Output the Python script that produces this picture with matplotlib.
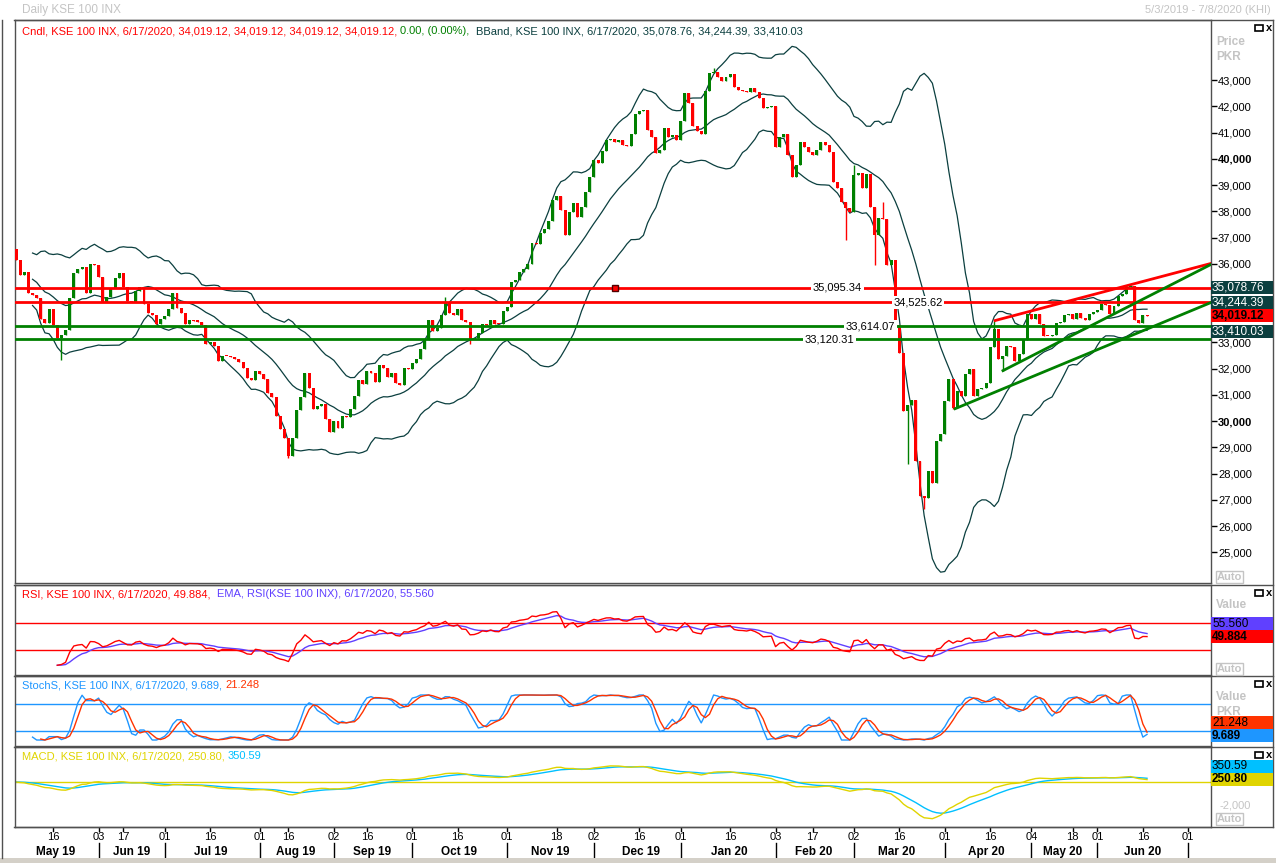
import numpy as np
import pandas as pd
import matplotlib
matplotlib.use("Agg")
import matplotlib.pyplot as plt
from matplotlib.patches import Rectangle
from matplotlib.lines import Line2D
from matplotlib import transforms

plt.rcParams['font.family'] = ['Liberation Sans', 'DejaVu Sans']

W, H = 1276, 863

# daily closes of KSE 100, 5/3/2019 .. 6/17/2020
close_may_aug = [36130, 35560, 35670, 34870, 34820, 34700, 33910, 33760, 34290, 33650,
                 33190, 33270, 33490, 34680, 35630, 35790, 35870, 34870, 36000, 35940,
                 35480, 34560, 34720, 35060, 35440, 35630, 35130, 34600, 34560, 34980,
                 35100, 34480, 34140, 34030, 33720, 33910, 34000, 34290, 34900, 34330,
                 34140, 33690, 33850, 33830, 33800, 33650, 32960, 33000, 32850, 32310,
                 32500, 32480, 32450, 32390, 32270, 32040, 31660, 31580, 31920, 31810,
                 31620, 31090, 30930, 30210, 29710, 29370, 28680, 29370, 30440]
close_aug_dec = [30940, 31850, 31280, 30480, 30590, 30670, 30100, 29600, 30020, 29750,
                 30210, 30170, 30480, 30970, 31580, 31430, 31930, 31850, 31510, 32160,
                 32040, 31700, 31850, 31470, 31390, 32040, 32000, 32230, 32390, 32770,
                 33080, 33840, 33420, 33570, 34030, 34530, 34140, 34030, 34290, 33840,
                 33800, 33150, 33190, 33380, 33720, 33650, 33870, 33720, 33700, 34210,
                 34370, 35290, 35370, 35670, 35790, 35980, 36780, 36740, 37190, 37310,
                 37620, 38420, 38570, 38040, 37080, 37960, 38300, 37770, 38150, 38720,
                 39300, 39950, 39830, 40280]
close_dec_mar = [40710, 40750, 40630, 40710, 40520, 40480, 40940, 41700, 41810, 41850,
                 41100, 40820, 40210, 40330, 41170, 40820, 40900, 40710, 41430, 42500,
                 42120, 41240, 41050, 40950, 42580, 43270, 43300, 43120, 42960, 43120,
                 43230, 42730, 42620, 42600, 42540, 42700, 42540, 42310, 41930, 41970,
                 42000, 40440, 40850, 40940, 40140, 39300, 39750, 40630, 40440, 40250,
                 40140, 40330, 40630, 40520, 40250, 39100, 38880, 38340, 38110, 37960,
                 39370, 39450, 38880, 39410, 38150, 37080, 37730, 37700, 35940, 36130,
                 33650]
close_mar_jun = [32610, 30400, 30600, 30800, 28490, 27160, 27080, 28100, 27650, 29260,
                 29520, 30780, 31620, 30520, 31160, 30970, 31810, 32000, 30970, 31240,
                 31280, 31470, 32810, 33500, 32390, 32500, 32880, 32810, 32310, 32580,
                 33080, 34100, 33910, 34100, 33720, 33260, 33230, 33300, 33760, 33800,
                 34030, 34100, 33910, 34140, 33950, 33850, 34100, 34150, 34250, 34450,
                 34420, 34100, 34400, 34790, 34850, 35100, 35170, 33840, 33760, 34030,
                 34019.12]
first_open = 36550
# the longer shadows that stand out (bar index -> price)
wick_high = {104: 34715, 169: 43470, 203: 39750, 210: 38340, 237: 33837}
wick_low = {11: 32350, 66: 28600, 110: 32960, 201: 36890, 208: 35940,
            216: 28380, 220: 26660, 227: 30477, 239: 31928}

# drawn horizontal levels and trend lines
levels = [35095.34, 34525.62, 33614.07, 33120.31]
level_colors = ['#FF0000', '#FF0000', '#008000', '#008000']
level_label_bar = [199, 218.5, 207, 197]
trend_red = ([237.2, 289.5], [33837, 36013])
trend_green_up = ([239.1, 289.5], [31928, 35975])
trend_green_low = ([227.5, 289.5], [30477, 34524])

# header values of the last bar
last_date = '6/17/2020'
last_ohlc = [34019.12, 34019.12, 34019.12, 34019.12]
bband_last = [35078.76, 34244.39, 33410.03]
rsi_last, rsi_ema_last = 49.884, 55.560
stoch_k_last, stoch_d_last = 9.689, 21.248
macd_last, macd_sig_last = 250.80, 350.59

# date axis (bar index of each labelled day)
day_ticks = [9, 20, 26, 36, 47, 59, 66, 77, 85, 96, 107, 119, 131, 140, 151,
             161, 173, 184, 193, 203, 214, 225, 236, 246, 256, 262, 273, 284]
day_labels = ['16', '03', '17', '01', '16', '01', '16', '02', '16', '01', '16', '01', '18', '02', '16',
              '01', '16', '03', '17', '02', '16', '01', '16', '04', '18', '01', '16', '01']
month_pos = [9.7, 27.9, 47.2, 67.8, 86.2, 107.3, 129.4, 151.4, 172.7, 193.3, 213.4, 235.0, 253.6, 273.0]
month_labels = ['May 19', 'Jun 19', 'Jul 19', 'Aug 19', 'Sep 19', 'Oct 19', 'Nov 19', 'Dec 19',
                'Jan 20', 'Feb 20', 'Mar 20', 'Apr 20', 'May 20', 'Jun 20']
month_starts = [20, 36, 59, 77, 96, 119, 140, 161, 184, 203, 225, 246, 262, 284]
price_ticks = [25000, 26000, 27000, 28000, 29000, 30000, 31000, 32000, 33000,
               36000, 37000, 38000, 39000, 40000, 41000, 42000, 43000]

GREEN = '#008000'
RED = '#FF0000'
TEAL = '#0B3F3F'
EMA_C = '#6040FF'
K_C = '#1E96FF'
D_C = '#FF3300'
MACD_C = '#E0D400'
SIG_C = '#00C0FF'
GRAY = '#C4C4C4'
FRAME = '#505050'


def px_rect(x0, y0, x1, y1):
    return [x0 / W, 1 - y1 / H, (x1 - x0) / W, (y1 - y0) / H]


fig = plt.figure(figsize=(W / 100, H / 100), dpi=100)
ax = fig.add_axes(px_rect(15, 20, 1211, 583))
ax_rsi = fig.add_axes(px_rect(15, 585, 1211, 675))
ax_st = fig.add_axes(px_rect(15, 676, 1211, 746))
ax_md = fig.add_axes(px_rect(15, 747, 1211, 827))

for a in (ax, ax_rsi, ax_st, ax_md):
    a.set_xlim(-0.25, 289.5)
    a.set_xticks([])
    for sp in a.spines.values():
        sp.set_color(FRAME)
        sp.set_linewidth(1)
ax.set_ylim(23834, 45291)
ax_rsi.set_ylim(-7, 126.3)
ax_st.set_ylim(-13.3, 142.2)
ax_md.set_ylim(-3913, 3043)
for a in (ax_rsi, ax_st, ax_md):
    a.set_yticks([])

# ---- candles
close = np.array(close_may_aug + close_aug_dec + close_dec_mar + close_mar_jun, dtype=float)
idx = np.arange(len(close))
opens = np.concatenate([[first_open], close[:-1]])
up = close >= opens
body_lo = np.minimum(opens, close)
body_hi = np.maximum(opens, close)
highs = body_hi.copy()
lows = body_lo.copy()
for k, v in wick_high.items():
    highs[k] = v
for k, v in wick_low.items():
    lows[k] = v
cols = np.where(up, GREEN, RED)
ax.vlines(idx, lows, highs, colors=cols, lw=1, zorder=3)
ax.bar(idx, np.maximum(body_hi - body_lo, 40), bottom=body_lo, width=0.72,
       color=cols, linewidth=0, zorder=3)

# ---- bollinger bands
s = pd.Series(close)
mid = s.rolling(20, min_periods=5).mean()
sd = s.rolling(20, min_periods=5).std(ddof=0)
for band in (mid + 2 * sd, mid, mid - 2 * sd):
    ax.plot(idx, band, color=TEAL, lw=0.9, zorder=2)

# ---- levels and trend lines
for lv, c, xb in zip(levels, level_colors, level_label_bar):
    ax.axhline(lv, color=c, lw=2, zorder=4)
    ax.text(xb, lv, f'{lv:,.2f}', ha='center', va='center', fontsize=8, color='black', zorder=5,
            bbox=dict(boxstyle='square,pad=0.15', fc='white', ec='none'))
ax.plot(145, levels[0], 's', ms=5, mfc=RED, mec='#500000', mew=1, zorder=6)
ax.plot(*trend_red, color=RED, lw=2, zorder=4)
ax.plot(*trend_green_up, color=GREEN, lw=2, zorder=4)
ax.plot(*trend_green_low, color=GREEN, lw=2, zorder=4)

# right price scale
ax.yaxis.tick_right()
ax.set_yticks(price_ticks)
ax.set_yticklabels([f'{t:,}' for t in price_ticks])
ax.tick_params(axis='y', direction='out', length=4, width=1, pad=1, labelsize=8, colors='black')
for t, lab in zip(price_ticks, ax.get_yticklabels()):
    if t % 10000 == 0:
        lab.set_fontweight('bold')

# ---- RSI
d = s.diff()
gain = d.clip(lower=0).ewm(alpha=1 / 14, adjust=False, min_periods=10).mean()
loss = (-d.clip(upper=0)).ewm(alpha=1 / 14, adjust=False, min_periods=10).mean()
rsi = 100 - 100 / (1 + gain / loss)
rsi_ema = rsi.ewm(span=9, adjust=False).mean()
ax_rsi.axhline(70, color=RED, lw=1)
ax_rsi.axhline(30, color=RED, lw=1)
ax_rsi.plot(idx, rsi_ema, color=EMA_C, lw=1)
ax_rsi.plot(idx, rsi, color=RED, lw=1)

# ---- slow stochastic
hh = s.rolling(14, min_periods=3).max()
ll = s.rolling(14, min_periods=3).min()
fast = 100 * (s - ll) / (hh - ll)
k_line = fast.rolling(3).mean()
d_line = k_line.rolling(3).mean()
ax_st.axhline(80, color=K_C, lw=1)
ax_st.axhline(20, color=K_C, lw=1)
ax_st.plot(idx, k_line, color=K_C, lw=1)
ax_st.plot(idx, d_line, color=D_C, lw=1)

# ---- MACD
macd = s.ewm(span=12, adjust=False).mean() - s.ewm(span=26, adjust=False).mean()
sig = macd.ewm(span=9, adjust=False).mean()
ax_md.axhline(0, color=MACD_C, lw=1)
ax_md.plot(idx, sig, color=SIG_C, lw=1)
ax_md.plot(idx, macd, color=MACD_C, lw=1)

# ---- header texts
renderer = fig.canvas.get_renderer()


def chain(x_px, y_px, pieces, size=8):
    x = x_px
    for txt, c in pieces:
        t = fig.text(x / W, 1 - y_px / H, txt, color=c, fontsize=size, va='center', ha='left')
        x += t.get_window_extent(renderer=renderer).width


ohlc_txt = ', '.join(f'{v:,.2f}' for v in last_ohlc)
chain(22, 31, [(f'Cndl, KSE 100 INX, {last_date}, {ohlc_txt}, ', RED),
               ('0.00, (0.00%),  ', GREEN),
               ('BBand, KSE 100 INX, {}, {}'.format(last_date, ', '.join(f'{v:,.2f}' for v in bband_last)), TEAL)])
chain(22, 594, [(f'RSI, KSE 100 INX, {last_date}, {rsi_last:.3f},  ', RED),
                (f'EMA, RSI(KSE 100 INX), {last_date}, {rsi_ema_last:.3f}', EMA_C)])
chain(22, 685, [(f'StochS, KSE 100 INX, {last_date}, {stoch_k_last:.3f}, ', K_C),
                (f'{stoch_d_last:.3f}', D_C)])
chain(22, 756, [(f'MACD, KSE 100 INX, {last_date}, {macd_last:.2f}, ', MACD_C),
                (f'{macd_sig_last:.2f}', SIG_C)])

fig.text(22 / W, 1 - 10 / H, 'Daily KSE 100 INX', color=GRAY, fontsize=8.5, va='center')
fig.text(1271 / W, 1 - 10 / H, '5/3/2019 - 7/8/2020 (KHI)', color=GRAY, fontsize=8, va='center', ha='right')


# ---- value boxes on the right scales
def y_px(a, v):
    return H - a.transData.transform((0, v))[1]


def put_box(yc, txt, fc, tc, bold):
    fig.patches.append(Rectangle((1211 / W, 1 - (yc + 6.5) / H), 62 / W, 13 / H,
                                 transform=fig.transFigure, fc=fc, ec='none', zorder=5))
    fig.text(1212 / W, 1 - yc / H, txt, color=tc, fontsize=8.5, va='center', ha='left',
             fontweight='bold' if bold else 'normal', zorder=6)


def boxes(a, main, others, fmt):
    y0 = y_px(a, main[0])
    put_box(y0, fmt.format(main[0]), main[1], main[2], True)
    for v, fc, tc in others:
        yc = y_px(a, v)
        if abs(yc - y0) < 13:
            yc = y0 - 13 if yc <= y0 else y0 + 13
        put_box(yc, fmt.format(v), fc, tc, False)


boxes(ax, (last_ohlc[3], RED, 'black'),
      [(bband_last[0], TEAL, 'white'), (bband_last[1], TEAL, 'white'), (bband_last[2], TEAL, 'white')], '{:,.2f}')
boxes(ax_rsi, (rsi_last, RED, 'black'), [(rsi_ema_last, EMA_C, 'black')], '{:.3f}')
boxes(ax_st, (stoch_k_last, K_C, 'black'), [(stoch_d_last, D_C, 'black')], '{:.3f}')
boxes(ax_md, (macd_last, MACD_C, 'black'), [(macd_sig_last, SIG_C, 'black')], '{:.2f}')

# right column captions
for txt, y in [('Price', 42), ('PKR', 57), ('Value', 605), ('Value', 697), ('PKR', 712)]:
    fig.text(1216 / W, 1 - y / H, txt, color=GRAY, fontsize=8.5, fontweight='bold', va='center')
for y in (577, 669, 819):
    fig.text(1217 / W, 1 - y / H, 'Auto', color=GRAY, fontsize=8, fontweight='bold', va='center',
             bbox=dict(boxstyle='square,pad=0.1', fc='white', ec=GRAY, lw=1))
fig.text(1219 / W, 1 - 805 / H, '-2,000', color=GRAY, fontsize=8, va='center')
for top in (20, 585, 676, 747):
    fig.patches.append(Rectangle((1255 / W, 1 - (top + 11) / H), 8 / W, 6 / H, transform=fig.transFigure,
                                 fc='white', ec='black', lw=1.2))
    fig.text(1266 / W, 1 - (top + 8) / H, 'x', fontsize=8, fontweight='bold', va='center')

# panel frame lines
for y in (20, 584.5, 675.5, 746.5, 827):
    fig.add_artist(Line2D([14 / W, 1273 / W], [1 - y / H] * 2, color=FRAME, lw=1))
fig.add_artist(Line2D([1273 / W] * 2, [1 - 20 / H, 1 - 827 / H], color=FRAME, lw=1))
fig.add_artist(Line2D([1.5 / W] * 2, [1 - 20 / H, 1 - 858 / H], color=FRAME, lw=1))

# ---- date axis
trans = transforms.blended_transform_factory(ax_md.transData, fig.transFigure)
for x, lab in zip(day_ticks, day_labels):
    ax_md.text(x, 1 - 837 / H, lab, transform=trans, ha='center', va='center', fontsize=8, clip_on=False)
    ax_md.add_artist(Line2D([x, x], [1 - 828 / H, 1 - 831 / H], transform=trans, color='black', lw=1,
                            clip_on=False))
for x, lab in zip(month_pos, month_labels):
    ax_md.text(x, 1 - 852 / H, lab, transform=trans, ha='center', va='center', fontsize=8.5,
               fontweight='bold', clip_on=False)
for x in month_starts:
    ax_md.add_artist(Line2D([x, x], [1 - 843 / H, 1 - 858 / H], transform=trans, color='black', lw=1,
                            clip_on=False))
fig.patches.append(Rectangle((0, 0), 1, 5 / H, transform=fig.transFigure, fc='#D4D0C8', ec='none'))

fig.savefig('out.png', dpi=100)
